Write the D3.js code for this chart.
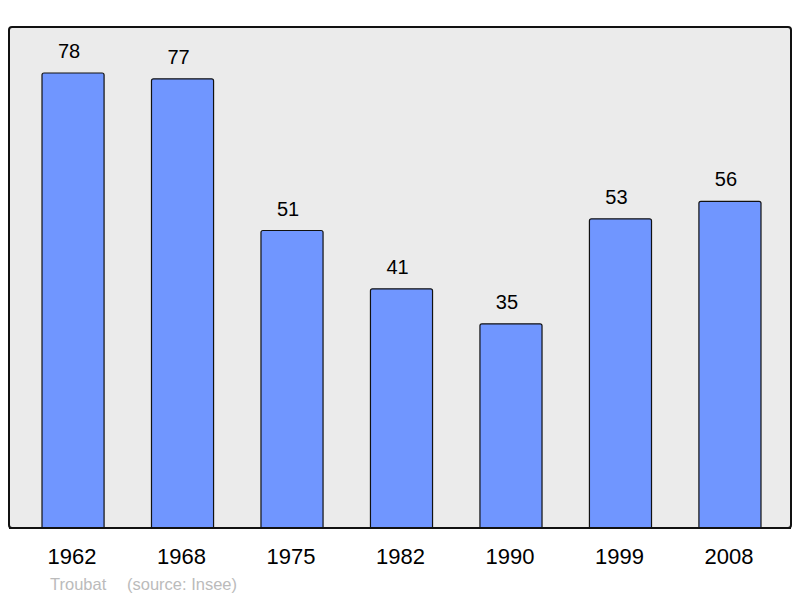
<!DOCTYPE html>
<html lang="en">
<head>
<meta charset="UTF-8">
<title>Population</title>
<script src="https://cdn.jsdelivr.net/npm/d3@7"></script>
<style>
body { margin: 0; background: #fff; }
svg { display: block; font-family: "Liberation Sans", Arial, sans-serif; }
</style>
</head>
<body>
<script>
const years = ["1962", "1968", "1975", "1982", "1990", "1999", "2008"]
const population = [78, 77, 51, 41, 35, 53, 56]
const author = "Troubat"
const source = "(source: Insee)"

const width = 800, height = 598
const svg = d3.select("body").append("svg")
    .attr("width", width)
    .attr("height", height)

// grey panel
svg.append("rect")
    .attr("x", 9).attr("y", 27)
    .attr("width", 782).attr("height", 501)
    .attr("rx", 3)
    .attr("fill", "#ebebeb")
    .attr("stroke", "#111")
    .attr("stroke-width", 2)

const x = d3.scaleBand()
    .domain(years)
    .range([18.3, 784.7])
    .paddingInner(0.433)
    .paddingOuter(0.2165)

const y = d3.scaleLinear()
    .domain([0, 78])
    .range([528, 73])

const data = years.map((yr, i) => ({ year: yr, value: population[i] }))

svg.append("g").selectAll("path")
    .data(data)
    .enter()
    .append("path")
    .attr("d", d => {
        const x0 = x(d.year), x1 = x0 + x.bandwidth()
        const top = y(d.value), bot = y(0), r = 2
        return `M${x0},${bot} L${x0},${top + r} Q${x0},${top} ${x0 + r},${top} L${x1 - r},${top} Q${x1},${top} ${x1},${top + r} L${x1},${bot}`
    })
    .attr("fill", "#7096ff")
    .attr("stroke", "#111")
    .attr("stroke-width", 1.2)

// redraw bottom border over bars
svg.append("line")
    .attr("x1", 9).attr("x2", 791)
    .attr("y1", 528).attr("y2", 528)
    .attr("stroke", "#111")
    .attr("stroke-width", 2)

svg.append("g").selectAll("text")
    .data(data)
    .enter()
    .append("text")
    .attr("x", d => x(d.year) + x.bandwidth() / 2 - 4)
    .attr("y", d => y(d.value) - 15)
    .attr("text-anchor", "middle")
    .attr("font-size", 20)
    .attr("fill", "#000")
    .text(d => d.value)

svg.append("g").selectAll("text")
    .data(years)
    .enter()
    .append("text")
    .attr("x", d => x(d) + x.bandwidth() / 2 - 1)
    .attr("y", 564)
    .attr("text-anchor", "middle")
    .attr("font-size", 22)
    .attr("fill", "#000")
    .text(d => d)

svg.append("text")
    .attr("x", 50).attr("y", 590)
    .attr("font-size", 16.5)
    .attr("fill", "#bbb")
    .text(author)

svg.append("text")
    .attr("x", 127).attr("y", 590)
    .attr("font-size", 16.5)
    .attr("fill", "#bbb")
    .text(source)
</script>
</body>
</html>
